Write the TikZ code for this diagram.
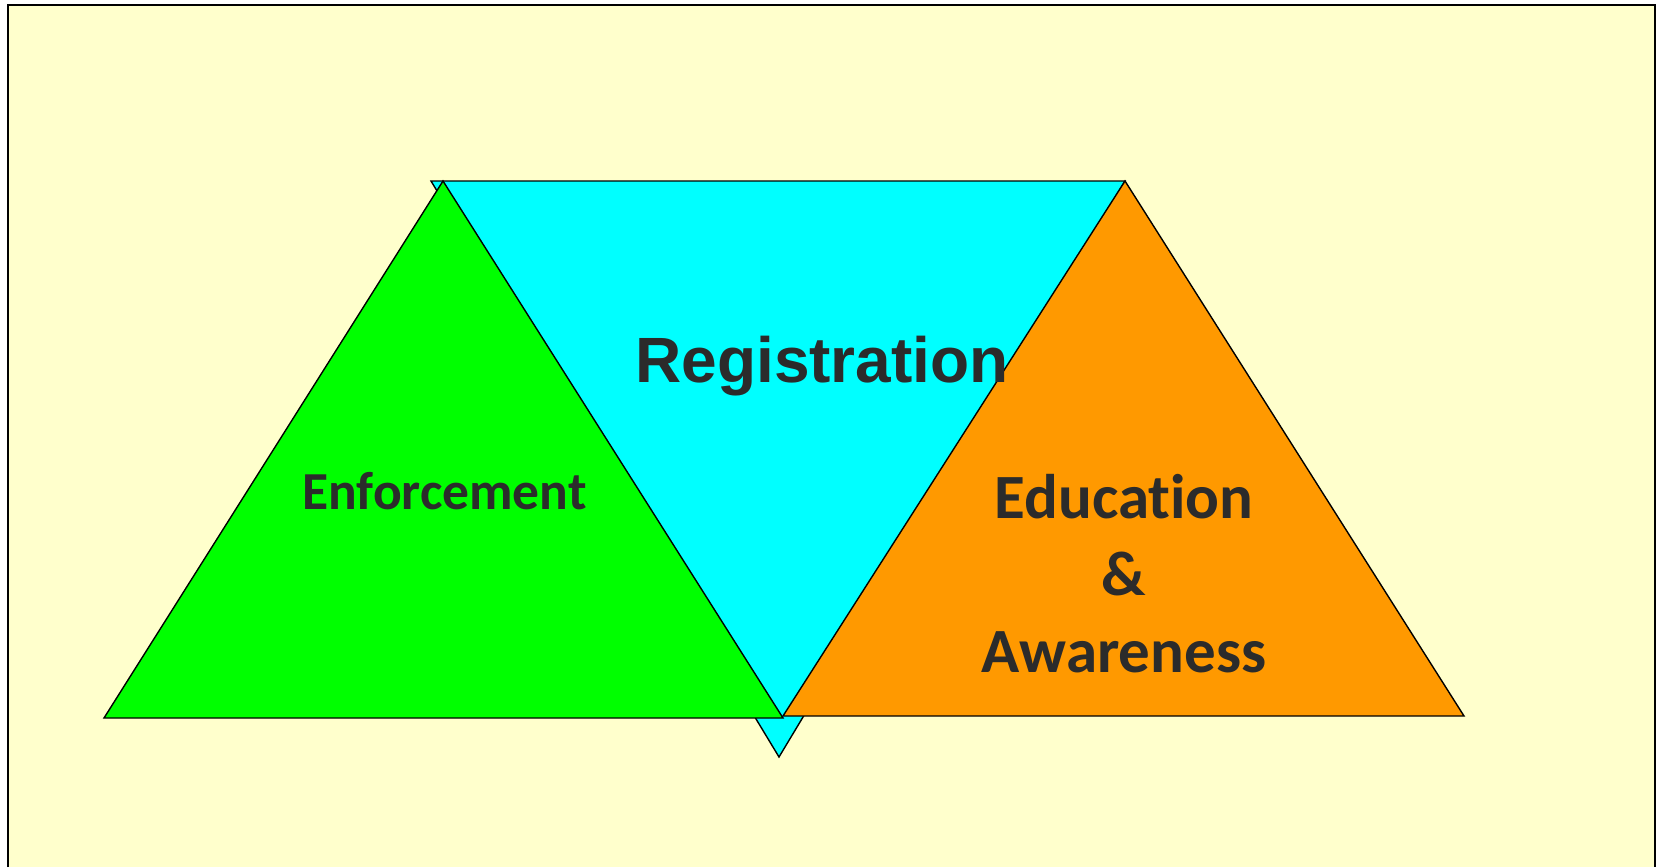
\documentclass[tikz,border=0pt]{standalone}
\usepackage{fontspec}
\setmainfont{Liberation Sans}
\newfontfamily\arialfont{Liberation Sans}
\newfontfamily\calfont[RawFeature=-liga]{Carlito}
\definecolor{bgyellow}{HTML}{FFFFCC}
\definecolor{cyanfill}{HTML}{00FFFF}
\definecolor{greenfill}{HTML}{00FF00}
\definecolor{orangefill}{HTML}{FF9900}
\definecolor{txtgray}{HTML}{2B2B2B}
\begin{document}
\begin{tikzpicture}[x=1pt,y=-1pt,
  tri/.style={draw=black,line width=1.4pt,line join=miter},
  lbl/.style={anchor=base,text=txtgray,inner sep=0pt},
  biglbl/.style={lbl,font=\arialfont\bfseries\fontsize{64}{76}\selectfont},
  smalllbl/.style={lbl,font=\calfont\bfseries\fontsize{53.5}{62}\selectfont},
  midlbl/.style={lbl,font=\calfont\bfseries\fontsize{63}{77}\selectfont}]
\useasboundingbox (0,0) rectangle (1664,867);
\fill[white] (0,0) rectangle (1664,867);
\fill[bgyellow] (8,5) rectangle (1655,867);
\draw[line width=2.4pt] (8,867) -- (8,5) -- (1655,5) -- (1655,867);
% triangles
\fill[cyanfill] (431,181) -- (1125,181) -- (779,757) -- cycle;
\draw[tri] (431,181) -- (1125,181) -- (779,757) -- cycle;
\fill[greenfill] (443,181) -- (783,718) -- (104,718) -- cycle;
\draw[tri] (443,181) -- (783,718) -- (104,718) -- cycle;
\fill[orangefill] (1125,181) -- (1464,716) -- (783,716) -- cycle;
\draw[tri] (1125,181) -- (1464,716) -- (783,716) -- cycle;
% labels
\node[biglbl] (reg) at (822,382) {Registration};
\node[smalllbl] (enf) at (444.5,509) {Enforcement};
\node[midlbl] (edu) at (1124,518) {Education};
\node[midlbl] (amp) at (1124,595) {\&};
\node[midlbl] (awa) at (1124,672) {Awareness};
\end{tikzpicture}
\end{document}
